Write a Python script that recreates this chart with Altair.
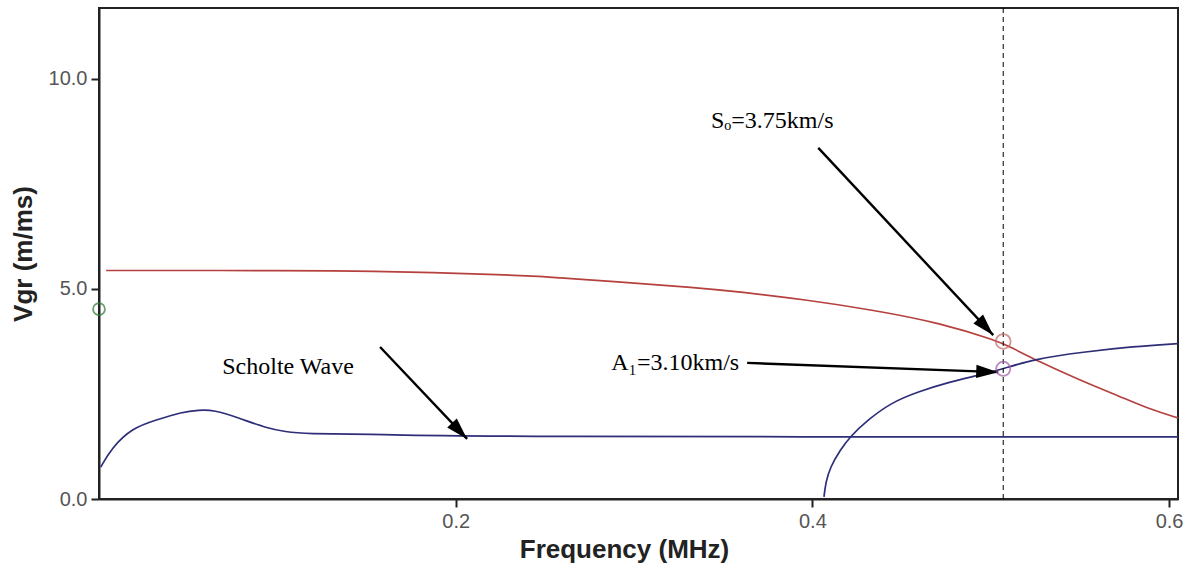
import math
import altair as alt
import pandas as pd

# Group-velocity dispersion curves (frequency in MHz, Vgr in m/ms)
s0_freq = [0.004, 0.05, 0.10, 0.143, 0.189, 0.225, 0.248, 0.26, 0.30, 0.33, 0.36,
           0.397, 0.434, 0.472, 0.504, 0.511, 0.528, 0.55, 0.573, 0.589, 0.605]
s0_vgr = [5.44, 5.44, 5.44, 5.43, 5.39, 5.34, 5.30, 5.26, 5.14, 5.05, 4.93,
          4.74, 4.50, 4.19, 3.76, 3.62, 3.25, 2.83, 2.43, 2.14, 1.93]

scholte_freq = [0.001, 0.007, 0.0185, 0.032, 0.0465, 0.056, 0.0644, 0.0784,
                0.0936, 0.105, 0.114, 0.161, 0.20, 0.605]
scholte_vgr = [0.76, 1.21, 1.69, 1.88, 2.07, 2.12, 2.12, 1.93,
               1.69, 1.60, 1.55, 1.54, 1.48, 1.48]

a1_freq = [0.4065, 0.4075, 0.410, 0.4157, 0.421, 0.431, 0.444, 0.459, 0.477,
           0.494, 0.507, 0.524, 0.552, 0.58, 0.605]
a1_vgr = [0.05, 0.40, 0.76, 1.17, 1.48, 1.88, 2.29, 2.55, 2.79,
          2.95, 3.10, 3.33, 3.50, 3.63, 3.70]

# Selected frequency and the picked velocities
pick_freq = 0.507
pick_s0 = 3.75
pick_a1 = 3.10
start_marker = (0.0, 4.52)

# Annotations: label text, label position, arrow tail and arrow tip
labels = ["Sₒ=3.75km/s", "A₁=3.10km/s", "Scholte Wave"]
label_x = [0.3775, 0.3612, 0.106]
label_y = [9.0, 3.24, 3.14]
label_align = ["center", "right", "center"]
arrow_x = [0.4033, 0.3634, 0.1576]
arrow_y = [8.36, 3.24, 3.62]
arrow_x2 = [0.5014, 0.5042, 0.2064]
arrow_y2 = [3.90, 3.02, 1.43]

X_DOMAIN = [0.0, 0.605]
Y_DOMAIN = [0.0, 11.69]
W, H = 1079, 491

RED = "#b5413f"
BLUE = "#2e2e78"

curves = pd.concat([
    pd.DataFrame({"f": s0_freq, "v": s0_vgr, "mode": "S0", "col": RED}),
    pd.DataFrame({"f": scholte_freq, "v": scholte_vgr, "mode": "Scholte", "col": BLUE}),
    pd.DataFrame({"f": a1_freq, "v": a1_vgr, "mode": "A1", "col": BLUE}),
], ignore_index=True)

xs = alt.Scale(domain=X_DOMAIN, nice=False, zero=False)
ys = alt.Scale(domain=Y_DOMAIN, nice=False, zero=False)

x_axis = alt.Axis(values=[0.2, 0.4, 0.6], format=".1f", grid=False,
                  title="Frequency (MHz)", titleX=525, titlePadding=5)
y_axis = alt.Axis(values=[0, 5, 10], format=".1f", grid=False,
                  title="Vgr (m/ms)", titlePadding=12)

lines = alt.Chart(curves).mark_line(strokeWidth=1.7, interpolate="basis").encode(
    x=alt.X("f:Q", scale=xs, axis=x_axis),
    y=alt.Y("v:Q", scale=ys, axis=y_axis),
    color=alt.Color("col:N", scale=None),
    detail="mode:N",
)

cursor = alt.Chart(pd.DataFrame({"f": [pick_freq], "v0": [Y_DOMAIN[0]], "v1": [Y_DOMAIN[1]]})).mark_rule(
    color="black", strokeWidth=1, strokeDash=[5, 4]
).encode(x=alt.X("f:Q", scale=xs), y=alt.Y("v0:Q", scale=ys), y2="v1:Q")

picks = alt.Chart(pd.DataFrame({
    "f": [pick_freq, pick_freq, start_marker[0]],
    "v": [pick_s0, pick_a1, start_marker[1]],
    "col": ["#c06a66", "#a05aa0", "#2a7a30"],
    "sz": [220, 200, 140],
})).mark_point(filled=False, strokeWidth=1.8).encode(
    x=alt.X("f:Q", scale=xs),
    y=alt.Y("v:Q", scale=ys),
    color=alt.Color("col:N", scale=None),
    size=alt.Size("sz:Q", scale=None),
)

# Arrowhead rotation follows the on-screen direction of each arrow
px_x = W / (X_DOMAIN[1] - X_DOMAIN[0])
px_y = H / (Y_DOMAIN[1] - Y_DOMAIN[0])
angles = []
for x0, y0, x1, y1 in zip(arrow_x, arrow_y, arrow_x2, arrow_y2):
    dx = (x1 - x0) * px_x
    dy = -(y1 - y0) * px_y
    angles.append(math.degrees(math.atan2(dx, -dy)) % 360)

arrows_df = pd.DataFrame({"x": arrow_x, "y": arrow_y, "x2": arrow_x2, "y2": arrow_y2,
                          "angle": angles})

shafts = alt.Chart(arrows_df).mark_rule(color="black", strokeWidth=2.4).encode(
    x=alt.X("x:Q", scale=xs), y=alt.Y("y:Q", scale=ys), x2="x2:Q", y2="y2:Q"
)

heads = alt.Chart(arrows_df).mark_point(
    shape="M0,0L-0.6,2L0.6,2Z", filled=True, color="black", opacity=1, size=484, strokeWidth=0
).encode(
    x=alt.X("x2:Q", scale=xs), y=alt.Y("y2:Q", scale=ys),
    angle=alt.Angle("angle:Q", scale=None),
)

label_df = pd.DataFrame({"x": label_x, "y": label_y, "text": labels, "align": label_align})
texts = []
for align in ["center", "right"]:
    texts.append(
        alt.Chart(label_df[label_df["align"] == align]).mark_text(
            font="Liberation Serif", fontSize=24, color="black", align=align,
            baseline="middle", dx=-4 if align == "right" else 0
        ).encode(x=alt.X("x:Q", scale=xs), y=alt.Y("y:Q", scale=ys), text="text:N")
    )

chart = alt.layer(lines, cursor, shafts, heads, picks, *texts).properties(
    width=W, height=H,
    autosize=alt.AutoSizeParams(type="none"),
    padding={"left": 99, "top": 8, "right": 11, "bottom": 65},
    background="white",
).configure_view(
    stroke="#222222", strokeWidth=2
).configure_axis(
    domainColor="#222222", domainWidth=2, tickColor="#222222", tickWidth=2, tickSize=8,
    labelFont="Liberation Sans", labelFontSize=20, labelColor="#555555", labelPadding=4,
    titleFont="Liberation Sans", titleFontSize=26, titleFontWeight="bold", titleColor="#222222",
)

chart.save("out.html", embed_options={"renderer": "svg", "actions": False})
